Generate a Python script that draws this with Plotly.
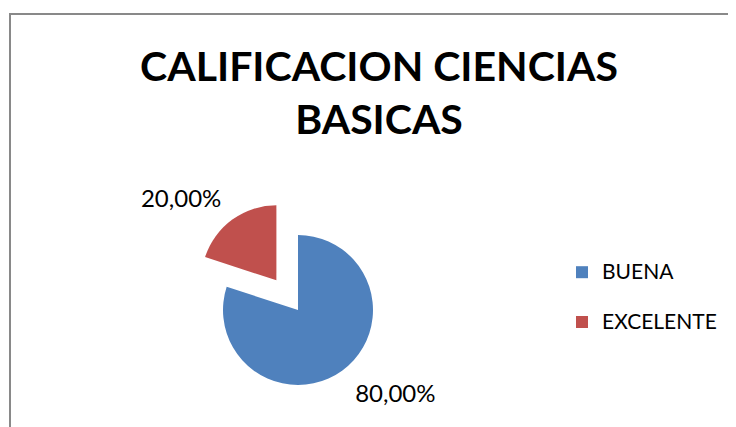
import plotly.graph_objects as go

# data
categories = ["BUENA", "EXCELENTE"]
values = [80, 20]
colors = ["#4F81BD", "#C0504D"]
pulls = [0, 0.49]

title_text = "CALIFICACION CIENCIAS<br>BASICAS"

W, H = 736, 427
OFF = 8  # the page body adds an 8px margin around the figure


def fx(px):
    return (px - OFF) / W


def fy(px):
    return 1 - (px - OFF) / H


# small invisible spacers push the outside labels a bit further from the pie
pct = "%{percent:.2%}"
spacer = '<span style="font-size:8px;baseline-shift:%dpx">&nbsp;</span>'
text_templates = [spacer % 31 + pct, spacer % -18 + pct]

fig = go.Figure(
    go.Pie(
        labels=['<span style="font-size:21px">%s</span><br> ' % c for c in categories],
        values=values,
        sort=False,
        direction="clockwise",
        rotation=0,
        pull=pulls,
        marker=dict(colors=colors, line=dict(width=0)),
        texttemplate=text_templates,
        textposition="outside",
        textfont=dict(family="Lato", size=24, color="black"),
        domain=dict(x=[fx(186.25), fx(409.75)], y=[fy(421.75), fy(198.25)]),
        hoverinfo="percent",
    )
)

# chart frame (gray border, cut off at right/bottom like the original)
fig.add_shape(
    type="rect", xref="paper", yref="paper",
    x0=fx(10), y0=-0.1, x1=1.1, y1=fy(14),
    line=dict(color="#898989", width=2), fillcolor="rgba(0,0,0,0)",
)

fig.update_layout(
    width=W,
    height=H,
    margin=dict(l=0, r=0, t=0, b=0, autoexpand=False),
    paper_bgcolor="white",
    plot_bgcolor="white",
    separators=",.",
    title=dict(
        text=title_text,
        x=fx(379), xanchor="center",
        y=fy(81), yanchor="top",
        font=dict(family="Lato", size=41, color="black", weight="bold"),
    ),
    legend=dict(
        x=fx(562), xanchor="left",
        y=fy(254), yanchor="top",
        valign="top",
        font=dict(family="Lato", size=18, color="black"),
        bgcolor="rgba(0,0,0,0)",
    ),
    showlegend=True,
)

fig.write_html("out.html")
